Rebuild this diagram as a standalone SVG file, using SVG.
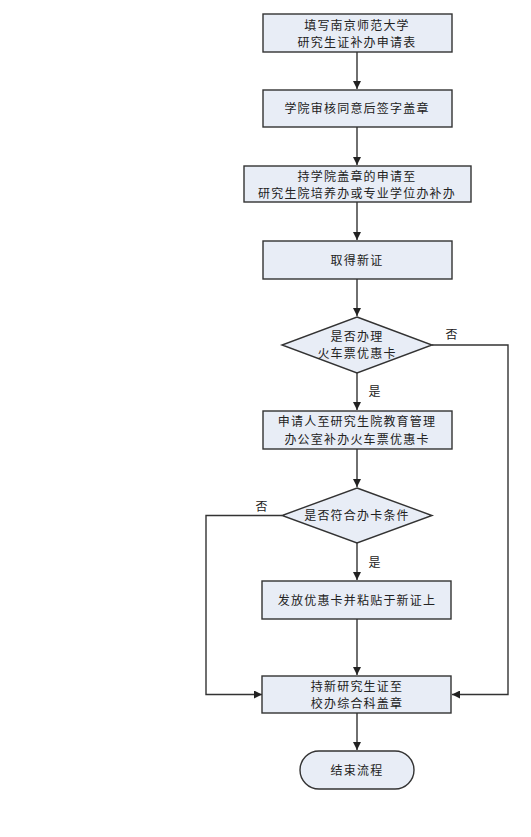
<svg xmlns="http://www.w3.org/2000/svg" width="531" height="837" viewBox="0 0 531 837">
<style>
.n{fill:#e8edf6;stroke:#333;stroke-width:1.4}
.t{font-family:"Noto Sans CJK SC","Liberation Serif",serif;font-size:12px;fill:#222;text-anchor:middle;letter-spacing:1.2px}
.c{fill:none;stroke:#333;stroke-width:1.4}
</style>
<defs>
<marker id="a" viewBox="0 0 10 10" refX="10" refY="5" markerWidth="8" markerHeight="8" markerUnits="userSpaceOnUse" orient="auto"><path d="M0,0L10,5L0,10z" fill="#222"/></marker>
</defs>
<rect width="531" height="837" fill="#fff"/>
<g id="connectors">
<path class="c" d="M357,52V89" marker-end="url(#a)"/>
<path class="c" d="M357,127V165" marker-end="url(#a)"/>
<path class="c" d="M357,202V240" marker-end="url(#a)"/>
<path class="c" d="M357,279V316" marker-end="url(#a)"/>
<path class="c" d="M357,373V410" marker-end="url(#a)"/>
<path class="c" d="M357,449V487" marker-end="url(#a)"/>
<path class="c" d="M357,543V580" marker-end="url(#a)"/>
<path class="c" d="M357,619V675" marker-end="url(#a)"/>
<path class="c" d="M357,713V750" marker-end="url(#a)"/>
<path class="c" d="M432,345H508V694.5H452" marker-end="url(#a)"/>
<path class="c" d="M282,515.5H206V694.5H262" marker-end="url(#a)"/>
<text class="t" x="452" y="339">否</text>
<text class="t" x="375" y="396">是</text>
<text class="t" x="262" y="511">否</text>
<text class="t" x="375" y="567">是</text>
</g>
<g id="n1"><rect class="n" x="263" y="14" width="189" height="38"/><text class="t" x="357" y="29.5">填写南京师范大学</text><text class="t" x="357" y="47">研究生证补办申请表</text></g>
<g id="n2"><rect class="n" x="263" y="90" width="189" height="37"/><text class="t" x="357" y="113">学院审核同意后签字盖章</text></g>
<g id="n3"><rect class="n" x="244" y="166" width="227" height="36"/><text class="t" x="357" y="180.5">持学院盖章的申请至</text><text class="t" x="357" y="198">研究生院培养办或专业学位办补办</text></g>
<g id="n4"><rect class="n" x="263" y="241" width="189" height="38"/><text class="t" x="357" y="265">取得新证</text></g>
<g id="n5"><polygon class="n" points="357,317 432,345 357,373 282,345"/><text class="t" x="357" y="340.5">是否办理</text><text class="t" x="357" y="358">火车票优惠卡</text></g>
<g id="n6"><rect class="n" x="263" y="411" width="189" height="38"/><text class="t" x="357" y="426">申请人至研究生院教育管理</text><text class="t" x="357" y="443.5">办公室补办火车票优惠卡</text></g>
<g id="n7"><polygon class="n" points="357,488 432,515.5 357,543 282,515.5"/><text class="t" x="357" y="520">是否符合办卡条件</text></g>
<g id="n8"><rect class="n" x="262" y="581" width="189" height="38"/><text class="t" x="357" y="605">发放优惠卡并粘贴于新证上</text></g>
<g id="n9"><rect class="n" x="262" y="676" width="189" height="37"/><text class="t" x="357" y="690.5">持新研究生证至</text><text class="t" x="357" y="708">校办综合科盖章</text></g>
<g id="n10"><rect class="n" x="300" y="751" width="114" height="38" rx="19"/><text class="t" x="357" y="775">结束流程</text></g>
</svg>
